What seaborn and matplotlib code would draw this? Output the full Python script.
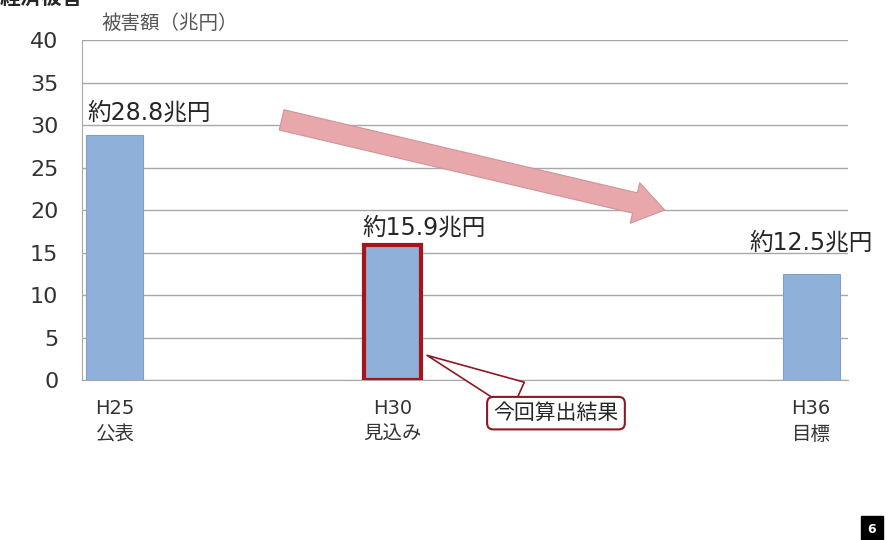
import matplotlib
matplotlib.use('Agg')
import matplotlib.pyplot as plt
import seaborn as sns
import pandas as pd
import numpy as np

# Data
years = [25, 30, 36]
damage = [28.8, 15.9, 12.5]
tick_labels = ['H25\n公表', 'H30\n見込み', 'H36\n目標']
value_labels = ['約28.8兆円', '約15.9兆円', '約12.5兆円']

df = pd.DataFrame({'year': years, 'damage': damage})

# uneven spacing of the slide's columns, as a piecewise linear x scale
knots_in = [20, 25, 30, 36, 41]
knots_out = [-278, 0, 278, 696, 1044]


def fwd(x):
    return np.interp(x, knots_in, knots_out)


def inv(x):
    return np.interp(x, knots_out, knots_in)


sns.set_style('white')
plt.rcParams['font.family'] = ['DejaVu Sans', 'Noto Sans CJK JP']

fig = plt.figure(figsize=(8.88, 5.4), dpi=100)
ax = fig.add_axes([0.0923, 0.2963, 0.8626, 0.6296])
ax.set_xscale('function', functions=(fwd, inv))

sns.barplot(data=df, x='year', y='damage', native_scale=True, width=0.205,
            color='#8FB0D8', saturation=1, edgecolor='#7E9FCA', linewidth=0.8,
            ax=ax, zorder=3)

# highlight H30 bar
ax.patches[1].set_edgecolor('#A4161E')
ax.patches[1].set_linewidth(3)

ax.set_ylim(0, 40)
ax.set_xlim(24.41, 36.53)
ax.set_yticks(range(0, 41, 5))
ax.tick_params(axis='y', labelsize=16, labelcolor='#333333', length=9, width=1,
               color='#A8A8A8', pad=8)
ax.set_xticks(years)
ax.set_xticks([], minor=True)
ax.set_xticklabels(tick_labels, fontsize=14, linespacing=1.45)
ax.tick_params(axis='x', length=0, pad=14, labelcolor='#333333')
ax.yaxis.grid(True, color='#A8A8A8', linewidth=1, zorder=0)
ax.set_axisbelow(True)
for s in ['top', 'right']:
    ax.spines[s].set_visible(False)
ax.spines['left'].set_color('#A8A8A8')
ax.spines['bottom'].set_color('#A8A8A8')
ax.set_xlabel('')
ax.set_ylabel('')

# value labels
ax.text(24.51, 31.5, value_labels[0], fontsize=17, ha='left', va='center')
ax.text(29.46, 17.9, value_labels[1], fontsize=17, ha='left', va='center')
ax.text(35.12, 16.2, value_labels[2], fontsize=17, ha='left', va='center')

# axis caption
ax.text(24.76, 42.0, '被害額（兆円）', fontsize=14, color='#555555', ha='left', va='center',
        clip_on=False)

# trend arrow
ax.annotate('', xy=(33.9, 20.0), xytext=(28.0, 30.6),
            arrowprops=dict(arrowstyle='simple,head_length=1.1,head_width=1.5,tail_width=0.75',
                            fc='#E8A7AB', ec='#D09498', lw=0.8, mutation_scale=20,
                            shrinkA=0, shrinkB=0), zorder=4)

# callout
ax.annotate('今回算出結果', xy=(30.49, 2.9), xytext=(32.34, -3.9),
            fontsize=15, ha='center', va='center', annotation_clip=False,
            bbox=dict(boxstyle='round,pad=0.3', fc='white', ec='#8B1A22', lw=1.5),
            arrowprops=dict(arrowstyle='wedge,tail_width=1.1', fc='white', ec='#8B1A22',
                            lw=1.2, shrinkA=0, shrinkB=0, mutation_scale=20), zorder=5)

# clipped heading and page number
fig.text(0.0, 0.983, '経済被害', fontsize=15, fontweight='bold', ha='left', va='bottom')
fig.text(0.982, 0.02, '6', fontsize=9, color='white', fontweight='bold', ha='center', va='center',
         bbox=dict(boxstyle='square,pad=0.5', fc='black', ec='black'))

fig.savefig('out.png', dpi=100)
